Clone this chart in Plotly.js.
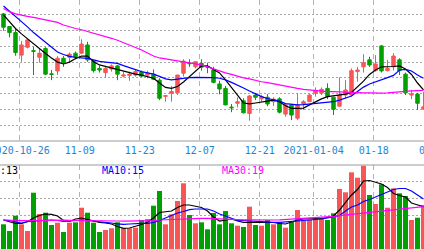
<!DOCTYPE html>
<html>
<head>
<meta charset="utf-8">
<script src="https://cdn.plot.ly/plotly-3.0.1.min.js"></script>
<style>html,body{margin:0;padding:0;background:#fff;}#chart{width:424px;height:249px;}</style>
</head>
<body>
<div id="chart"></div>
<script>
// trading days (the last two are only used for axis labels)
var dates = ["2020-10-21","2020-10-22","2020-10-23","2020-10-26","2020-10-27","2020-10-28","2020-10-29","2020-10-30",
"2020-11-02","2020-11-03","2020-11-04","2020-11-05","2020-11-06","2020-11-09","2020-11-10","2020-11-11","2020-11-12","2020-11-13",
"2020-11-16","2020-11-17","2020-11-18","2020-11-19","2020-11-20","2020-11-23","2020-11-24","2020-11-25","2020-11-26","2020-11-27",
"2020-11-30","2020-12-01","2020-12-02","2020-12-03","2020-12-04","2020-12-07","2020-12-08","2020-12-09","2020-12-10","2020-12-11",
"2020-12-14","2020-12-15","2020-12-16","2020-12-17","2020-12-18","2020-12-21","2020-12-22","2020-12-23","2020-12-24","2020-12-25",
"2020-12-28","2020-12-29","2020-12-30","2020-12-31","2021-01-04","2021-01-05","2021-01-06","2021-01-07","2021-01-08",
"2021-01-11","2021-01-12","2021-01-13","2021-01-14","2021-01-15","2021-01-18","2021-01-19","2021-01-20","2021-01-21","2021-01-22",
"2021-01-25","2021-01-26","2021-01-27","2021-01-28","2021-01-29","2021-02-01"];

var opens  = [13.52,13.12,12.93,12.22,12.47,12.36,12.15,12.43,11.63,11.72,12.12,12.15,12.28,12.28,12.54,12.03,11.80,11.67,11.78,11.88,
11.56,11.58,11.59,11.67,11.59,11.62,11.43,10.92,11.02,11.03,11.65,11.97,11.85,11.96,11.86,11.75,11.31,11.17,10.58,10.70,
10.78,10.38,10.96,10.84,10.89,10.75,10.84,10.36,10.65,10.23,10.68,10.75,11.02,11.02,11.17,10.89,10.61,10.96,10.96,11.70,
11.85,12.07,11.73,12.51,11.73,11.85,12.07,11.62,10.96,10.99,10.52];
var highs  = [13.55,13.14,13.07,12.67,12.72,12.48,12.43,12.47,11.75,12.19,12.19,12.30,12.33,12.72,12.64,12.07,11.89,11.88,11.93,11.91,
11.70,11.70,11.75,11.73,11.73,11.77,11.49,10.96,11.25,11.60,12.09,12.09,12.03,12.09,11.98,11.85,11.41,11.25,10.68,10.89,
10.86,10.96,11.03,10.96,10.99,10.89,10.89,10.70,10.68,11.02,10.80,10.99,11.20,11.20,11.33,10.91,11.52,11.43,11.80,11.85,
12.25,12.17,12.22,12.54,12.07,12.28,12.12,11.67,11.12,11.03,11.06];
var lows   = [12.99,12.78,12.20,12.01,12.43,11.59,11.98,11.59,11.43,11.59,11.85,11.99,12.09,12.25,12.01,11.67,11.67,11.52,11.70,11.43,
11.52,11.41,11.54,11.52,11.49,11.43,10.80,10.75,10.75,10.96,11.54,11.85,11.80,11.73,11.65,11.33,10.98,10.64,10.42,10.57,
10.38,10.15,10.80,10.75,10.61,10.61,10.38,10.28,10.17,10.17,10.49,10.74,10.91,10.96,10.83,10.33,10.59,10.86,10.91,11.38,
11.67,11.85,11.70,11.67,11.70,11.73,11.59,10.96,10.83,10.49,10.49];
var closes = [13.10,12.93,12.30,12.54,12.70,12.34,12.28,11.62,11.61,12.12,11.99,12.25,12.17,12.57,12.07,11.73,11.75,11.80,11.88,11.62,
11.59,11.62,11.70,11.56,11.65,11.46,10.86,10.94,11.07,11.59,12.03,11.95,12.01,11.84,11.84,11.36,11.15,10.65,10.56,10.75,
10.40,10.93,10.89,10.91,10.68,10.83,10.42,10.65,10.33,10.65,10.75,10.96,11.10,11.14,10.91,10.51,10.96,11.12,11.73,11.75,
11.98,11.91,11.94,11.72,11.80,12.19,11.73,11.03,10.99,10.70,10.59];

var ma5  = [13.49,13.26,13.06,12.89,12.73,12.59,12.44,12.27,12.13,12.00,11.94,12.00,12.11,12.19,12.19,12.01,11.91,11.86,11.81,11.77,
11.72,11.68,11.62,11.59,11.55,11.49,11.34,11.20,11.17,11.23,11.37,11.55,11.72,11.88,11.88,11.78,11.66,11.44,11.21,10.96,
10.71,10.68,10.71,10.75,10.77,10.80,10.75,10.62,10.54,10.54,10.55,10.65,10.75,10.84,10.91,10.93,10.95,10.99,11.04,11.21,
11.40,11.61,11.75,11.85,11.85,11.86,11.88,11.78,11.61,11.34,11.12];
var ma10 = [13.77,13.61,13.44,13.28,13.11,12.93,12.78,12.60,12.46,12.32,12.24,12.18,12.15,12.14,12.12,12.07,12.02,12.00,11.98,11.96,
11.89,11.83,11.75,11.70,11.66,11.62,11.55,11.47,11.44,11.47,11.50,11.51,11.52,11.52,11.52,11.51,11.49,11.44,11.36,11.28,
11.18,11.09,10.99,10.91,10.85,10.80,10.77,10.69,10.66,10.65,10.66,10.68,10.70,10.71,10.73,10.75,10.80,10.86,10.93,11.07,
11.21,11.31,11.37,11.44,11.51,11.58,11.75,11.77,11.72,11.59,11.49];
var ma30 = [13.69,13.59,13.52,13.47,13.44,13.41,13.37,13.33,13.29,13.25,13.17,13.11,13.06,13.02,12.97,12.91,12.85,12.81,12.75,12.69,
12.62,12.54,12.46,12.38,12.29,12.19,12.13,12.10,12.07,12.03,12.00,11.97,11.94,11.91,11.85,11.78,11.71,11.66,11.61,11.55,
11.50,11.47,11.42,11.38,11.35,11.31,11.28,11.24,11.20,11.17,11.14,11.12,11.10,11.08,11.07,11.07,11.06,11.04,11.03,11.03,
11.03,11.03,11.02,11.02,11.03,11.05,11.07,11.09,11.09,11.10,11.11];

var volumes = [7.41,5.40,9.99,7.41,5.40,16.89,10.50,10.89,7.20,7.89,5.10,7.89,8.01,12.39,10.89,7.89,5.10,5.70,6.21,8.01,
6.21,6.21,6.39,8.70,9.00,12.99,17.40,7.41,10.41,14.40,19.71,10.20,7.71,8.01,5.91,10.80,7.41,11.40,7.71,6.99,
6.60,12.69,7.20,6.99,8.70,7.41,8.01,6.39,8.40,11.70,8.40,8.70,9.39,9.21,8.70,10.71,18.00,17.01,23.01,21.39,
24.99,16.20,13.50,19.41,12.39,18.21,16.71,15.90,8.70,9.39,13.20];
var volMa5  = [8.70,8.10,7.65,7.65,8.19,9.30,10.05,10.50,10.41,9.90,8.55,8.25,9.00,9.30,8.85,8.40,8.01,7.80,7.50,6.75,
6.21,6.30,6.75,7.35,8.01,9.30,10.95,11.19,11.40,12.45,13.20,13.20,12.75,12.45,11.40,9.60,8.40,8.70,9.00,8.40,
8.01,8.01,8.01,8.01,8.10,7.95,7.65,7.50,8.10,8.70,9.00,9.00,9.00,9.15,9.45,9.90,11.70,14.10,16.20,17.85,
20.40,20.55,19.95,19.50,18.45,16.65,16.05,15.60,13.80,13.20,12.69];
var volMa10 = [8.70,8.55,8.10,7.80,8.25,8.40,8.55,8.70,8.70,8.55,8.25,8.40,8.61,8.70,8.55,8.40,8.25,8.01,7.80,7.56,
7.41,7.50,7.65,7.71,7.71,7.95,8.55,9.30,10.05,10.80,11.25,11.79,12.00,12.00,12.00,11.40,10.50,9.90,9.30,8.55,
8.55,8.40,8.31,8.16,8.01,8.01,8.01,8.10,8.25,8.40,8.55,8.70,8.76,9.00,9.30,9.60,10.05,11.40,12.60,13.20,
14.25,14.85,15.60,16.20,17.10,17.85,18.15,18.15,17.40,16.20,15.00];
var volMa30 = [8.70,8.60,8.50,8.50,8.55,8.60,8.65,8.70,8.70,8.70,8.65,8.60,8.60,8.60,8.55,8.50,8.45,8.40,8.40,8.40,
8.35,8.35,8.40,8.40,8.45,8.50,8.70,8.80,8.90,9.00,9.10,9.15,9.20,9.20,9.20,9.10,9.00,8.90,8.85,8.80,
8.75,8.75,8.70,8.70,8.70,8.70,8.75,8.85,9.00,9.20,9.35,9.45,9.55,9.65,9.70,9.80,10.00,10.20,10.40,10.60,
10.85,11.05,11.20,11.40,11.60,11.80,11.95,12.10,12.30,12.45,12.70];

var labelDates = ["2020-10-26","2020-11-09","2020-11-23","2020-12-07","2020-12-21","2021-01-04","2021-01-18","2021-02-01"];
var labelTexts = ["2020-10-26","11-09","11-23","12-07","12-21","2021-01-04","01-18","02-01"];
var maLabels = ["MA5:13","MA10:15","MA30:19"];

var UP = "#f85656", DOWN = "#00a000";
var idx = dates.map(function(d,i){return i;});
var volColors = closes.map(function(c,i){return c >= opens[i] ? UP : DOWN;});
var tickPos = labelDates.map(function(d){return dates.indexOf(d) - 0.3;});

var traces = [
  {type:"candlestick", x:idx, open:opens, high:highs, low:lows, close:closes, xaxis:"x", yaxis:"y",
   increasing:{line:{color:UP,width:1}, fillcolor:UP}, decreasing:{line:{color:DOWN,width:1}, fillcolor:DOWN},
   whiskerwidth:0, hoverinfo:"skip"},
  {type:"scatter", mode:"lines", x:idx, y:ma5, xaxis:"x", yaxis:"y", line:{color:"#000000", width:1.2}, hoverinfo:"skip"},
  {type:"scatter", mode:"lines", x:idx, y:ma10, xaxis:"x", yaxis:"y", line:{color:"#0000ff", width:1.2}, hoverinfo:"skip"},
  {type:"scatter", mode:"lines", x:idx, y:ma30, xaxis:"x", yaxis:"y", line:{color:"#ff00ff", width:1.2}, hoverinfo:"skip"},
  {type:"bar", x:idx, y:volumes, xaxis:"x2", yaxis:"y2", width:0.83, marker:{color:volColors, line:{width:0}}, hoverinfo:"skip"},
  {type:"scatter", mode:"lines", x:idx, y:volMa5, xaxis:"x2", yaxis:"y2", line:{color:"#000000", width:1.2}, hoverinfo:"skip"},
  {type:"scatter", mode:"lines", x:idx, y:volMa10, xaxis:"x2", yaxis:"y2", line:{color:"#0000ff", width:1.2}, hoverinfo:"skip"},
  {type:"scatter", mode:"lines", x:idx, y:volMa30, xaxis:"x2", yaxis:"y2", line:{color:"#ff00ff", width:1.2}, hoverinfo:"skip"}
];

var H = 249, W = 424, mainBottom = 141, volTop = 165;
var xRange = [-0.583, 70.083];
var gridV = {showgrid:true, gridcolor:"#b4b4b4", gridwidth:1, griddash:"5px,4px", zeroline:false, showline:false, ticks:""};
var labelFont = {family:"DejaVu Sans Mono", size:10, color:"#1a86d6"};

// tick labels that fall past the right edge of the axis range are drawn as paper annotations
var annotations = [];
labelDates.forEach(function(d,i){
  var p = tickPos[i];
  if (p > xRange[1]) {
    annotations.push({text:labelTexts[i], xref:"paper", yref:"paper",
      x:(p - xRange[0])/(xRange[1]-xRange[0]), y:(H-150.5)/H, xanchor:"center", yanchor:"middle",
      showarrow:false, font:labelFont});
  }
});
var maColors = ["#000000","#0000ff","#ff00ff"];
var maX = [-20, 100, 220];
maLabels.forEach(function(t,i){
  annotations.push({text:t, xref:"paper", yref:"paper", x:maX[i]/W, y:(H-170.5)/H, xanchor:"left", yanchor:"middle",
    showarrow:false, font:{family:"DejaVu Sans Mono", size:10, color:maColors[i]}});
});

var layout = {
  width:W, height:H, margin:{l:0,r:0,t:0,b:0},
  paper_bgcolor:"#ffffff", plot_bgcolor:"#ffffff", showlegend:false, boxgap:0.18,
  xaxis: Object.assign({}, gridV, {domain:[0,1], anchor:"y", range:xRange, tickmode:"array",
     tickvals:tickPos, ticktext:labelTexts, tickangle:0, ticklabeloverflow:"allow", ticklabelstandoff:2,
     tickfont:labelFont, rangeslider:{visible:false}, fixedrange:true}),
  xaxis2: Object.assign({}, gridV, {domain:[0,1], anchor:"y2", matches:"x", tickmode:"array",
     tickvals:tickPos, showticklabels:false, rangeslider:{visible:false}}),
  yaxis: {domain:[1-mainBottom/H,1], range:[9.511,13.958], tick0:0, dtick:0.5, showticklabels:false,
     showgrid:true, gridcolor:"#a8a8a8", griddash:"2px,2px", zeroline:false, showline:false, ticks:""},
  yaxis2:{domain:[0,(H-volTop)/H], range:[0,25.2], tickmode:"array", tickvals:[10.2,15.2,20.2],
     showticklabels:false, showgrid:true, gridcolor:"#a8a8a8", griddash:"2px,2px", zeroline:false, showline:false, ticks:""},
  shapes:[
    {type:"line", xref:"paper", yref:"paper", x0:0, x1:1, y0:1-mainBottom/H, y1:1-mainBottom/H, line:{color:"#999999", width:1}},
    {type:"line", xref:"paper", yref:"paper", x0:0, x1:1, y0:(H-volTop)/H, y1:(H-volTop)/H, line:{color:"#999999", width:1}}
  ],
  annotations:annotations
};
Plotly.newPlot("chart", traces, layout, {staticPlot:true, displayModeBar:false});
</script>
</body>
</html>
